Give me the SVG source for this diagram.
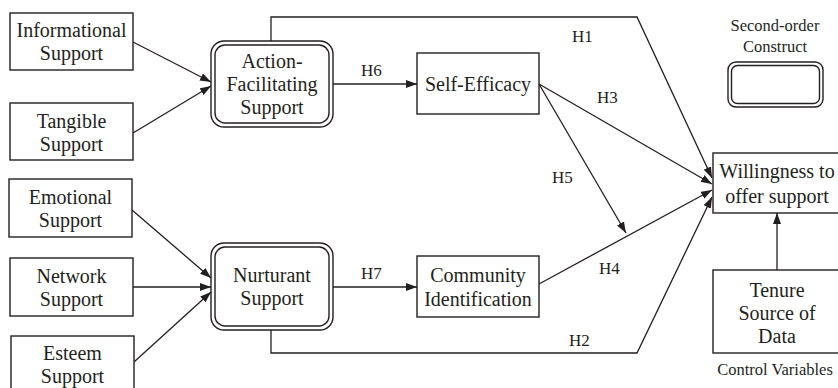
<svg xmlns="http://www.w3.org/2000/svg" width="838" height="388" viewBox="0 0 838 388">
<defs>
<marker id="arr" markerWidth="11" markerHeight="8" refX="11" refY="4" orient="auto" markerUnits="userSpaceOnUse">
<path d="M0,0 L11,4 L0,8 z" fill="#231f20"/>
</marker>
<style>
.box{fill:#fff;stroke:#231f20;stroke-width:1.4}
.t{font-family:'Liberation Serif','DejaVu Serif',serif;font-size:20px;fill:#231f20;text-anchor:middle}
.h{font-family:'Liberation Serif','DejaVu Serif',serif;font-size:17px;fill:#231f20}
.s{font-family:'Liberation Serif','DejaVu Serif',serif;font-size:16.5px;fill:#231f20;text-anchor:middle}
.c{fill:none;stroke:#231f20;stroke-width:1.3}
</style>
</defs>
<rect width="838" height="388" fill="#fff"/>

<g id="connectors">
<line class="c" x1="133" y1="42" x2="211" y2="82" marker-end="url(#arr)"/>
<line class="c" x1="133" y1="133" x2="211" y2="86" marker-end="url(#arr)"/>
<line class="c" x1="132" y1="210" x2="211" y2="278" marker-end="url(#arr)"/>
<line class="c" x1="133" y1="287" x2="211" y2="287" marker-end="url(#arr)"/>
<line class="c" x1="134" y1="362" x2="211" y2="292" marker-end="url(#arr)"/>
<line class="c" x1="333" y1="84" x2="417" y2="84" marker-end="url(#arr)"/>
<line class="c" x1="333" y1="287" x2="417" y2="287" marker-end="url(#arr)"/>
<polyline class="c" points="271,41 271,17 637,17 712,178" marker-end="url(#arr)"/>
<polyline class="c" points="271,330 271,353 637,353 712,197" marker-end="url(#arr)"/>
<line class="c" x1="539" y1="84" x2="712" y2="184" marker-end="url(#arr)"/>
<line class="c" x1="539" y1="84" x2="626" y2="233" marker-end="url(#arr)"/>
<line class="c" x1="539" y1="284" x2="712" y2="190" marker-end="url(#arr)"/>
<line class="c" x1="777" y1="270" x2="777" y2="213" marker-end="url(#arr)"/>
<text class="h" font-family="Liberation Serif, DejaVu Serif, serif" x="572" y="42">H1</text>
<text class="h" font-family="Liberation Serif, DejaVu Serif, serif" x="569" y="346">H2</text>
<text class="h" font-family="Liberation Serif, DejaVu Serif, serif" x="597" y="103">H3</text>
<text class="h" font-family="Liberation Serif, DejaVu Serif, serif" x="599" y="274">H4</text>
<text class="h" font-family="Liberation Serif, DejaVu Serif, serif" x="552" y="183">H5</text>
<text class="h" font-family="Liberation Serif, DejaVu Serif, serif" x="361" y="76">H6</text>
<text class="h" font-family="Liberation Serif, DejaVu Serif, serif" x="361" y="279">H7</text>
</g>

<g id="informational">
<rect class="box" x="10" y="13" width="123" height="57"/>
<text class="t" x="71.5" y="37">Informational</text>
<text class="t" x="71.5" y="60">Support</text>
</g>
<g id="tangible">
<rect class="box" x="10" y="103" width="123" height="57"/>
<text class="t" x="71.5" y="128">Tangible</text>
<text class="t" x="71.5" y="151">Support</text>
</g>
<g id="emotional">
<rect class="box" x="9" y="179" width="123" height="58"/>
<text class="t" x="70.5" y="204">Emotional</text>
<text class="t" x="70.5" y="227">Support</text>
</g>
<g id="network">
<rect class="box" x="10" y="258" width="123" height="58"/>
<text class="t" x="71.5" y="283">Network</text>
<text class="t" x="71.5" y="306">Support</text>
</g>
<g id="esteem">
<rect class="box" x="11" y="336" width="123" height="60"/>
<text class="t" x="72.5" y="360">Esteem</text>
<text class="t" x="72.5" y="383">Support</text>
</g>

<g id="action">
<rect class="box" x="211" y="41" width="122" height="86" rx="13"/>
<rect class="box" x="215" y="45" width="114" height="78" rx="10"/>
<text class="t" x="272" y="68">Action-</text>
<text class="t" x="272" y="91">Facilitating</text>
<text class="t" x="272" y="114">Support</text>
</g>
<g id="nurturant">
<rect class="box" x="211" y="243" width="122" height="87" rx="13"/>
<rect class="box" x="215" y="247" width="114" height="79" rx="10"/>
<text class="t" x="272" y="282">Nurturant</text>
<text class="t" x="272" y="305">Support</text>
</g>

<g id="selfefficacy">
<rect class="box" x="417" y="53" width="122" height="61"/>
<text class="t" x="478" y="91">Self-Efficacy</text>
</g>
<g id="community">
<rect class="box" x="417" y="256" width="122" height="61"/>
<text class="t" x="478" y="282">Community</text>
<text class="t" x="478" y="306">Identification</text>
</g>

<g id="willingness">
<rect class="box" x="713" y="153" width="130" height="60"/>
<text class="t" x="777" y="178">Willingness to</text>
<text class="t" x="777" y="203">offer support</text>
</g>
<g id="tenure">
<rect class="box" x="713" y="270" width="130" height="83"/>
<text class="t" x="777" y="297">Tenure</text>
<text class="t" x="777" y="320">Source of</text>
<text class="t" x="777" y="343">Data</text>
</g>
<g id="control-label">
<text class="s" x="775" y="375">Control Variables</text>
</g>

<g id="legend">
<text class="s" x="775" y="31">Second-order</text>
<text class="s" x="775" y="52">Construct</text>
<rect class="box" x="728" y="62" width="95" height="45" rx="8"/>
<rect class="box" x="731.5" y="65.5" width="88" height="38" rx="6"/>
</g>
</svg>
